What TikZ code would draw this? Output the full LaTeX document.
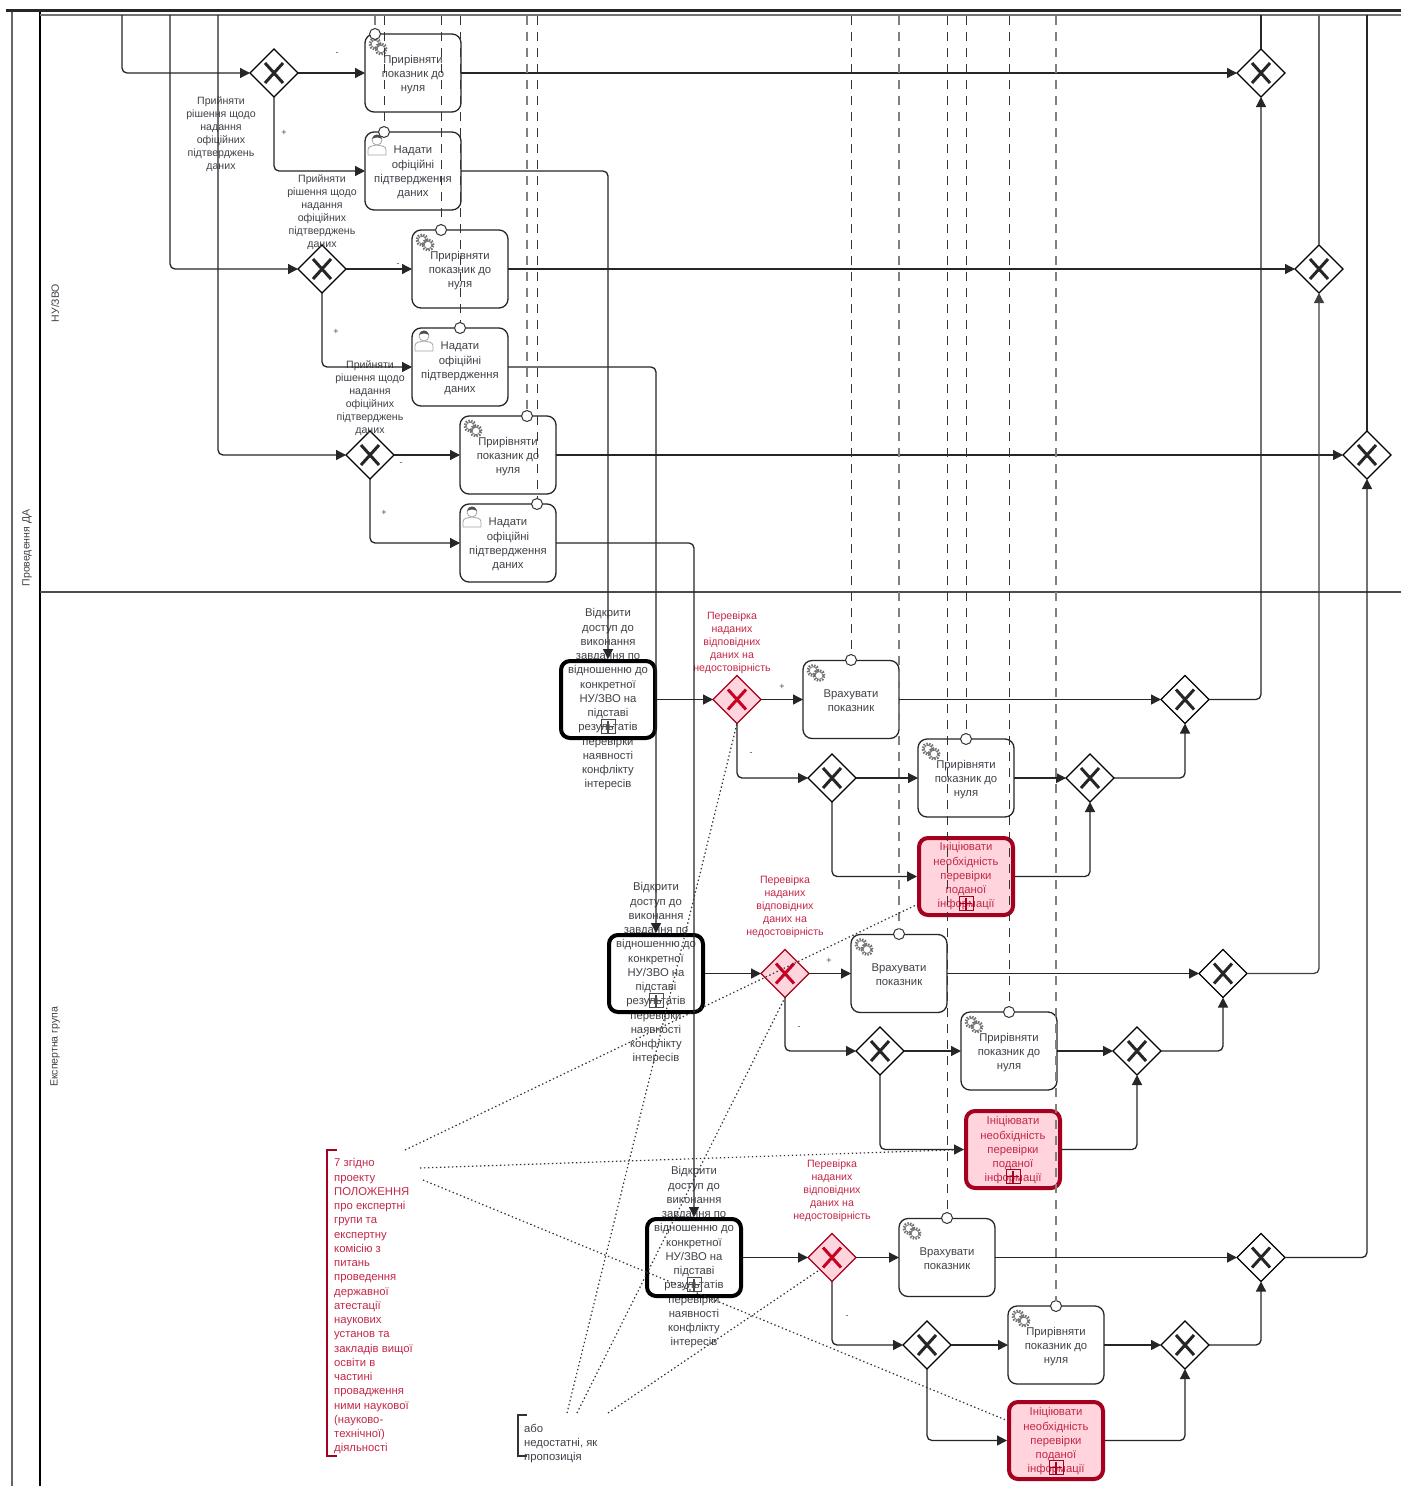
\documentclass[tikz,border=0pt]{standalone}
\usepackage{fontspec}
\setmainfont{Liberation Sans}
\usetikzlibrary{shapes.geometric,arrows.meta}
\definecolor{inkc}{RGB}{62,66,72}
\definecolor{redtxt}{RGB}{196,40,72}
\definecolor{redbd}{RGB}{165,0,30}
\definecolor{redfill}{RGB}{255,212,220}
\definecolor{redx}{RGB}{200,0,35}
\tikzset{
  taskbox/.style={draw=black!85,line width=1.3pt,fill=white,rounded corners=9pt,minimum width=96pt,minimum height=78pt,inner sep=0pt,outer sep=0pt},
  subbox/.style={draw=black,line width=4pt,fill=white,rounded corners=9pt,minimum width=94pt,minimum height=77pt,inner sep=0pt,outer sep=2pt},
  subfill/.style={subbox,draw=none},
  subline/.style={subbox,fill=none},
  redbox/.style={subbox,draw=redbd,fill=redfill},
  redfillbox/.style={redbox,draw=none},
  redline/.style={redbox,fill=none},
  txt/.style={text=inkc,align=center,inner sep=0pt,yshift=-1.5pt,font=\fontsize{11.3}{14.25}\selectfont},
  txtred/.style={txt,text=redtxt},
  gatelabel/.style={txt,yshift=-1pt,font=\fontsize{10.6}{13}\selectfont},
  gatelabelred/.style={gatelabel,text=redtxt},
  gwbox/.style={diamond,aspect=1,draw=black,line width=1.3pt,fill=white,minimum width=48pt,minimum height=48pt,inner sep=0pt,outer sep=0pt},
  gwred/.style={gwbox,draw=redbd,fill=redfill},
  flow/.style={draw=black!85,line width=1.3pt,rounded corners=5pt,-{Triangle[length=10pt,width=10pt]}},
  plainflow/.style={draw=black!85,line width=1.3pt},
  msgline/.style={draw=black!80,line width=1pt,dash pattern=on 9pt off 7pt},
  msggray/.style={msgline,draw=black!50,line width=1.4pt},
  startc/.style={circle,draw=black!80,line width=1pt,fill=white,minimum size=11pt,inner sep=0pt,outer sep=0pt},
  assoc/.style={draw=black!80,line width=1.2pt,dash pattern=on 1.4pt off 2.6pt},
  signtxt/.style={text=black!70,inner sep=0pt,font=\fontsize{9}{10}\selectfont},
  lanetxt/.style={text=inkc,inner sep=0pt,rotate=90,font=\fontsize{10.5}{12}\selectfont},
  bracketblk/.style={draw=black!80,line width=1.3pt},
  bracketred/.style={draw=redbd,line width=1.3pt},
  gearstroke/.style={draw=black!55,line width=2.4pt,dash pattern=on 1.5pt off 1.3pt},
  gearin/.style={draw=black!55,line width=.7pt,fill=white},
}
\newcommand{\geargroup}[1]{%
  \begin{scope}[shift={(#1.center)}]
    \draw[gearstroke] (-38,-29) circle (5.4pt);
    \draw[gearin] (-38,-29) circle (3.8pt);
    \draw[gearstroke] (-32,-24) circle (5.4pt);
    \draw[gearin] (-32,-24) circle (3.8pt);
  \end{scope}}
\newcommand{\usergroup}[1]{%
  \begin{scope}[shift={(#1.center)}]
    \draw[draw=black!35,line width=.8pt,fill=white] (-45,-16) -- (-45,-21) .. controls (-45,-25) and (-41,-25) .. (-36,-26) .. controls (-31,-25) and (-27,-25) .. (-27,-21) -- (-27,-16) -- cycle;
    \draw[draw=black!35,line width=.8pt,fill=white] (-36,-31) circle (5pt);
    \fill[black!70] (-41,-32) .. controls (-40,-38) and (-32,-38) .. (-31,-32) .. controls (-34,-34) and (-38,-34) .. cycle;
  \end{scope}}
\newcommand{\marker}[2]{%
  \begin{scope}[shift={(#1.center)}]
    \draw[draw=#2,line width=.5pt] (-7,20) rectangle (7,34);
    \draw[draw=#2,line width=1.3pt] (-6,27) -- (6,27) (0,21) -- (0,33);
  \end{scope}}
\newcommand{\gatex}{black!85}
\newcommand{\gate}[4]{% name x y style
  \node[#4] (#1) at (#2,#3) {};
  \begin{scope}[shift={(#1.center)}]
    \draw[line width=3pt,draw=\gatex] (-9,-10) -- (9,10) (-9,10) -- (9,-10);
  \end{scope}}
\newcommand{\tasktxt}{Прирівняти\\показник до\\нуля}
\newcommand{\proof}{Надати\\офіційні\\підтвердження\\даних}
\newcommand{\acct}{Врахувати\\показник}
\newcommand{\subtxt}{Відкрити\\доступ до\\виконання\\завдання по\\відношенню до\\конкретної\\НУ/ЗВО на\\підставі\\результатів\\перевірки\\наявності\\конфлікту\\інтересів}
\newcommand{\initxt}{Ініціювати\\необхідність\\перевірки\\поданої\\інформації}
\newcommand{\dectxt}{Прийняти\\рішення щодо\\надання\\офіційних\\підтверджень\\даних}
\newcommand{\chktxt}{Перевірка\\наданих\\відповідних\\даних на\\недостовірність}
\begin{document}
\begin{tikzpicture}[x=1pt,y=-1pt]
\useasboundingbox (0,0) rectangle (1407,1486);
\fill[white] (0,0) rectangle (1407,1486);
% lanes
\draw[draw=black!60,line width=1.3pt] (12,11) -- (12,1486);
\draw[draw=black,line width=1.3pt] (40,11) -- (40,1486);
\draw[draw=black!85,line width=2.4pt] (6,10.5) -- (1401,10.5);
\draw[draw=black!55,line width=2pt] (40,15) -- (1401,15);
\draw[draw=black!70,line width=1.6pt] (40,592) -- (1401,592);
\node[lanetxt] (laneA) at (27,548) {Проведення ДА};
\node[lanetxt] (laneB) at (55,303) {НУ/ЗВО};
\node[lanetxt] (laneC) at (55,1047) {Експертна група};
% tasks
\node[taskbox] (T1) at (413,73) {};
\node[taskbox] (T2) at (413,171) {};
\node[taskbox] (T3) at (460,269) {};
\node[taskbox] (T4) at (460,367) {};
\node[taskbox] (T5) at (508,455) {};
\node[taskbox] (T6) at (508,543) {};
\node[taskbox] (V1) at (851,699.5) {};
\node[taskbox] (V2) at (899,973.5) {};
\node[taskbox] (V3) at (947,1257.5) {};
\node[taskbox] (P1) at (966,778) {};
\node[taskbox] (P2) at (1009,1051) {};
\node[taskbox] (P3) at (1056,1345) {};
\geargroup{T1}\geargroup{T3}\geargroup{T5}\geargroup{V1}\geargroup{V2}\geargroup{V3}\geargroup{P1}\geargroup{P2}\geargroup{P3}
\usergroup{T2}\usergroup{T4}\usergroup{T6}
\node[txt] (T1t) at (413,73) {\tasktxt};
\node[txt] (T2t) at (413,171) {\proof};
\node[txt] (T3t) at (460,269) {\tasktxt};
\node[txt] (T4t) at (460,367) {\proof};
\node[txt] (T5t) at (508,455) {\tasktxt};
\node[txt] (T6t) at (508,543) {\proof};
\node[txt] (V1t) at (851,699.5) {\acct};
\node[txt] (V2t) at (899,973.5) {\acct};
\node[txt] (V3t) at (947,1257.5) {\acct};
\node[txt] (P1t) at (966,778) {\tasktxt};
\node[txt] (P2t) at (1009,1051) {\tasktxt};
\node[txt] (P3t) at (1056,1345) {\tasktxt};
% sub-processes: fill, text, then border
\node[subfill] (S1b) at (608,699.5) {};
\node[subfill] (S2b) at (656,973.5) {};
\node[subfill] (S3b) at (694,1257.5) {};
\node[redfillbox] (I1b) at (966,876.5) {};
\node[redfillbox] (I2b) at (1013,1149.5) {};
\node[redfillbox] (I3b) at (1056,1440.5) {};
\node[txt] (S1t) at (608,698) {\subtxt};
\node[txt] (S2t) at (656,972) {\subtxt};
\node[txt] (S3t) at (694,1256) {\subtxt};
\node[txtred] (I1t) at (966,875) {\initxt};
\node[txtred] (I2t) at (1013,1149) {\initxt};
\node[txtred] (I3t) at (1056,1440) {\initxt};
\node[subline] (S1) at (608,699.5) {};
\node[subline] (S2) at (656,973.5) {};
\node[subline] (S3) at (694,1257.5) {};
\node[redline] (I1) at (966,876.5) {};
\node[redline] (I2) at (1013,1149.5) {};
\node[redline] (I3) at (1056,1440.5) {};
\marker{S1}{black!70}\marker{S2}{black!70}\marker{S3}{black!70}
\marker{I1}{redbd}\marker{I2}{redbd}\marker{I3}{redbd}
% gateways
\gate{G1}{274}{73}{gwbox}\gate{G1e}{1261}{73}{gwbox}
\gate{G2}{322}{269}{gwbox}\gate{G2e}{1319}{269}{gwbox}
\gate{G3}{370}{455}{gwbox}\gate{G3e}{1367}{455}{gwbox}
\gate{X1}{832}{778}{gwbox}\gate{X2}{880}{1051}{gwbox}\gate{X3}{927}{1345}{gwbox}
\gate{M1}{1090}{778}{gwbox}\gate{M2}{1137}{1051}{gwbox}\gate{M3}{1185}{1345}{gwbox}
\gate{E1}{1185}{699.5}{gwbox}\gate{E2}{1223}{973.5}{gwbox}\gate{E3}{1261}{1257.5}{gwbox}
\renewcommand{\gatex}{redx}
\gate{R1}{737}{699.5}{gwred}\gate{R2}{785}{973.5}{gwred}\gate{R3}{832}{1257.5}{gwred}
% gateway labels
\node[gatelabel] (L1) at (221,132) {\dectxt};
\node[gatelabel] (L2) at (322,209.5) {\dectxt};
\node[gatelabel] (L3) at (370,396) {\dectxt};
\node[gatelabelred] (C1) at (732,640) {\chktxt};
\node[gatelabelred] (C2) at (785,904) {\chktxt};
\node[gatelabelred] (C3) at (832,1188) {\chktxt};
% free ends
\coordinate (in1) at (122,15);
\coordinate (in2) at (170,15);
\coordinate (in3) at (218,15);
\coordinate (up1) at (1261,15);
\coordinate (up2) at (1319,15);
\coordinate (up3) at (1367,15);
% flows
\draw[flow] (in1) |- (G1.west);
\draw[flow] (in2) |- (G2.west);
\draw[flow] (in3) |- (G3.west);
\draw[flow] (G1.east) -- (T1.west);
\draw[flow] (G1.south) |- (T2.west);
\draw[flow] (G2.east) -- (T3.west);
\draw[flow] (G2.south) |- (T4.west);
\draw[flow] (G3.east) -- (T5.west);
\draw[flow] (G3.south) |- (T6.west);
\draw[flow] (T1.east) -- (G1e.west);
\draw[flow] (T3.east) -- (G2e.west);
\draw[flow] (T5.east) -- (G3e.west);
\draw[plainflow] (G1e.north) -- (up1);
\draw[plainflow,draw=black!60] (G2e.north) -- (up2);
\draw[plainflow] (G3e.north) -- (up3);
\draw[flow] (T2.east) -| (S1.north);
\draw[flow] (T4.east) -| (S2.north);
\draw[flow] (T6.east) -| (S3.north);
\draw[flow] (S1.east) -- (R1.west);
\draw[flow] (S2.east) -- (R2.west);
\draw[flow] (S3.east) -- (R3.west);
\draw[flow] (R1.east) -- (V1.west);
\draw[flow] (R2.east) -- (V2.west);
\draw[flow] (R3.east) -- (V3.west);
\draw[flow] (R1.south) |- (X1.west);
\draw[flow] (R2.south) |- (X2.west);
\draw[flow] (R3.south) |- (X3.west);
\draw[flow] (X1.east) -- (P1.west);
\draw[flow] (X2.east) -- (P2.west);
\draw[flow] (X3.east) -- (P3.west);
\draw[flow] (X1.south) |- (I1.west);
\draw[flow] (X2.south) |- (I2.west);
\draw[flow] (X3.south) |- (I3.west);
\draw[flow] (P1.east) -- (M1.west);
\draw[flow] (P2.east) -- (M2.west);
\draw[flow] (P3.east) -- (M3.west);
\draw[flow] (I1.east) -| (M1.south);
\draw[flow] (I2.east) -| (M2.south);
\draw[flow] (I3.east) -| (M3.south);
\draw[flow] (V1.east) -- (E1.west);
\draw[flow] (V2.east) -- (E2.west);
\draw[flow] (V3.east) -- (E3.west);
\draw[flow] (M1.east) -| (E1.south);
\draw[flow] (M2.east) -| (E2.south);
\draw[flow] (M3.east) -| (E3.south);
\draw[flow] (E1.east) -| (G1e.south);
\draw[flow,draw=black!75] (E2.east) -| (G2e.south);
\draw[flow] (E3.east) -| (G3e.south);
% start markers and message flows
\node[startc] (cT1) at (375,34) {};
\node[startc] (cT2) at (384,132) {};
\node[startc] (cT3) at (441,230) {};
\node[startc] (cT4) at (460,328) {};
\node[startc] (cT5) at (527,416) {};
\node[startc] (cT6) at (537,504) {};
\node[startc] (cV1) at (851,660) {};
\node[startc] (cV2) at (899,934) {};
\node[startc] (cV3) at (947,1218) {};
\node[startc] (cP1) at (966,739) {};
\node[startc] (cP2) at (1009,1012) {};
\node[startc] (cP3) at (1056,1306) {};
\foreach \nm/\xx in {T1/375,T2/384,T3/441,T4/460,T5/527,T6/537,V1/851,V2/899,V3/947,P1/966,P2/1009,P3/1056}{
  \coordinate (top\nm) at (\xx,16);
}
\draw[msggray] (topT1) -- (cT1);
\draw[msgline] (topT2) -- (cT2);
\draw[msgline] (topT3) -- (cT3);
\draw[msgline] (topT4) -- (cT4);
\draw[msggray] (topT5) -- (cT5);
\draw[msgline] (topT6) -- (cT6);
\draw[msgline] (topV1) -- (cV1);
\draw[msggray] (topV2) -- (cV2);
\draw[msgline] (topV3) -- (cV3);
\draw[msgline] (topP1) -- (cP1);
\draw[msgline] (topP2) -- (cP2);
\draw[msggray] (topP3) -- (cP3);
% annotations
\draw[bracketred] (337,1150) -- (327,1150) -- (327,1456) -- (337,1456);
\node[txtred,align=left,anchor=north west] (N1) at (334,1157) {7 згідно\\проекту\\ПОЛОЖЕННЯ\\про експертні\\групи та\\експертну\\комісію з\\питань\\проведення\\державної\\атестації\\наукових\\установ та\\закладів вищої\\освіти в\\частині\\провадження\\ними наукової\\(науково-\\технічної)\\діяльності};
\draw[bracketblk] (527,1415) -- (518,1415) -- (518,1456) -- (527,1456);
\node[txt,align=left,anchor=north west] (N2) at (524,1422) {або\\недостатні, як\\пропозиція};
\coordinate (a1) at (405,1150);
\coordinate (a2) at (420,1168);
\coordinate (a3) at (423,1180);
\coordinate (b1) at (567,1413);
\coordinate (b2) at (577,1413);
\coordinate (b3) at (608,1413);
\draw[assoc] (a1) -- ([yshift=-28pt]I1.west);
\draw[assoc] (a2) -- (I2.west);
\draw[assoc] (a3) -- ([yshift=20pt]I3.west);
\draw[assoc] (b1) -- (R1.south);
\draw[assoc] (b2) -- (R2.south);
\draw[assoc] (b3) -- (R3.south west);
% signs
\node[signtxt] (s1) at (337,54) {-};
\node[signtxt] (s2) at (284,133) {+};
\node[signtxt] (s3) at (336,332) {+};
\node[signtxt] (s4) at (401,464) {-};
\node[signtxt] (s5) at (384,513) {+};
\node[signtxt] (s6) at (782,687) {+};
\node[signtxt] (s7) at (751,754) {-};
\node[signtxt] (s8) at (829,961) {+};
\node[signtxt] (s9) at (799,1028) {-};
\node[signtxt] (s10) at (847,1317) {-};
\node[signtxt] (s11) at (398,265) {-};
\end{tikzpicture}
\end{document}
